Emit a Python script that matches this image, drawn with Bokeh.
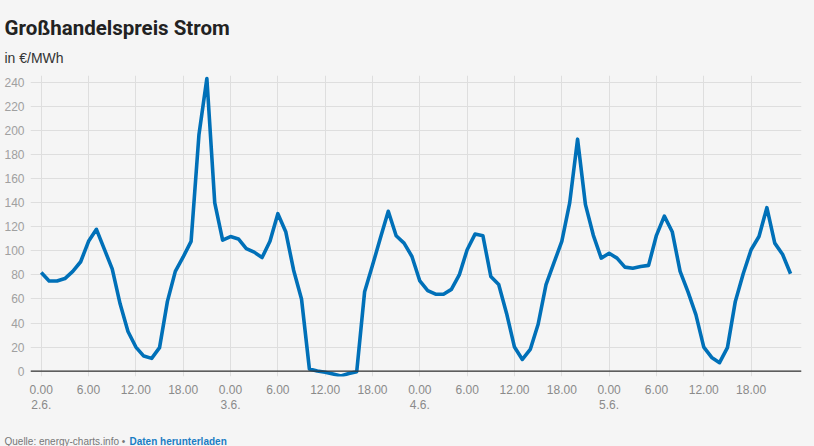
from bokeh.plotting import figure
from bokeh.models import Range1d, FixedTicker, Label, Span
from bokeh.layouts import column
from bokeh.embed import file_html
from bokeh.resources import INLINE

# hourly wholesale electricity price, €/MWh, 2.6. 0:00 .. 5.6. 23:00
price = [82, 75, 75, 77, 83, 91, 108, 118, 101.5, 85, 56, 33, 20, 12.5, 10.6, 19.5, 58, 83, 95, 108, 197, 243.5, 140, 109,
         112, 110, 102, 99, 94.5, 108, 131, 116, 84, 60, 1.7, 0, -1, -2.5, -4, -2, -0.5, 66, 88, 110.7, 133, 112.6, 106.5, 95.4,
         75, 67, 64, 64, 68, 80, 101, 114, 112.6, 78.7, 72, 48, 20, 9.7, 18, 39, 72, 90, 108, 140, 193, 138.5, 113, 94,
         98, 94, 86.5, 85.6, 87, 88, 113, 129, 116, 83, 66, 47, 20, 11.4, 7, 19.5, 58, 81, 101, 112, 136, 106.5, 97, 81]
hours = list(range(len(price)))

hour_labels = ["0.00", "6.00", "12.00", "18.00"]
day_labels = ["2.6.", "3.6.", "4.6.", "5.6."]
y_ticks = list(range(0, 241, 20))

title_text = "Großhandelspreis Strom"
subtitle_text = "in €/MWh"
source_text = "Quelle: energy-charts.info •"
link_text = "Daten herunterladen"

BG = "#f5f5f5"
W = 814
HEAD_H, MAIN_H, FOOT_H = 64, 354, 28


def text_panel(h):
    f = figure(width=W, height=h, output_backend="svg", toolbar_location=None,
               x_range=Range1d(0, W), y_range=Range1d(h, 0),
               min_border=0, min_border_left=0, min_border_right=0,
               min_border_top=0, min_border_bottom=0,
               x_axis_location=None, y_axis_location=None, frame_align=False)
    f.grid.visible = False
    f.background_fill_color = BG
    f.border_fill_color = BG
    f.outline_line_color = None
    return f


head = text_panel(HEAD_H)
head.add_layout(Label(x=4, y=27, text=title_text,
                      text_font="Roboto", text_font_style="bold", text_font_size="20.5px",
                      text_color="#222222", text_baseline="alphabetic"))
head.add_layout(Label(x=4, y=57, text=subtitle_text,
                      text_font="Liberation Sans", text_font_size="14px",
                      text_color="#333333", text_baseline="alphabetic"))

x_ticks = list(range(0, len(price), 6))
overrides = {}
for i, t in enumerate(x_ticks):
    lab = hour_labels[i % 4]
    if i % 4 == 0:
        lab += "\n" + day_labels[i // 4]
    overrides[t] = lab

p = figure(width=W, height=MAIN_H, output_backend="svg", toolbar_location=None,
           x_range=Range1d(-1.36, 96.39), y_range=Range1d(-4.5, 246),
           min_border_top=11, min_border_bottom=42, min_border_left=30, min_border_right=13,
           frame_align=False)
p.background_fill_color = BG
p.border_fill_color = BG
p.outline_line_color = None

p.xaxis.ticker = FixedTicker(ticks=x_ticks)
p.xaxis.major_label_overrides = overrides
p.xaxis.axis_line_color = None
p.xaxis.major_tick_line_color = None
p.xaxis.minor_tick_line_color = None
p.xaxis.major_tick_out = 0
p.xaxis.major_tick_in = 0
p.xaxis.minor_tick_out = 0
p.xaxis.minor_tick_in = 0
p.xaxis.major_label_standoff = 6
p.xaxis.major_label_text_font = "Liberation Sans"
p.xaxis.major_label_text_font_size = "12px"
p.xaxis.major_label_text_color = "#8a8a8a"
p.xaxis.major_label_text_line_height = 1.08

p.yaxis.ticker = FixedTicker(ticks=y_ticks)
p.yaxis.axis_line_color = None
p.yaxis.major_tick_line_color = None
p.yaxis.minor_tick_line_color = None
p.yaxis.major_tick_out = 0
p.yaxis.major_tick_in = 0
p.yaxis.minor_tick_out = 0
p.yaxis.minor_tick_in = 0
p.yaxis.major_label_standoff = 6
p.yaxis.major_label_text_font = "Liberation Sans"
p.yaxis.major_label_text_font_size = "12px"
p.yaxis.major_label_text_color = "#a0a0a0"

p.xgrid.grid_line_color = "#dedede"
p.ygrid.grid_line_color = "#dedede"

p.line(hours, price, line_color="#0070b8", line_width=3.6, line_join="round")
p.add_layout(Span(location=0, dimension="width", line_color="#333333", line_width=1.3))

foot = text_panel(FOOT_H)
foot.add_layout(Label(x=4, y=23, text=source_text,
                      text_font="Liberation Sans", text_font_size="10px",
                      text_color="#777777", text_baseline="alphabetic"))
foot.add_layout(Label(x=129, y=23, text=link_text,
                      text_font="Liberation Sans", text_font_style="bold", text_font_size="10px",
                      text_color="#1a7dc4", text_baseline="alphabetic"))

layout = column(head, p, foot, spacing=0, styles={"background-color": BG})
open("out.html", "w").write(file_html(layout, INLINE))
